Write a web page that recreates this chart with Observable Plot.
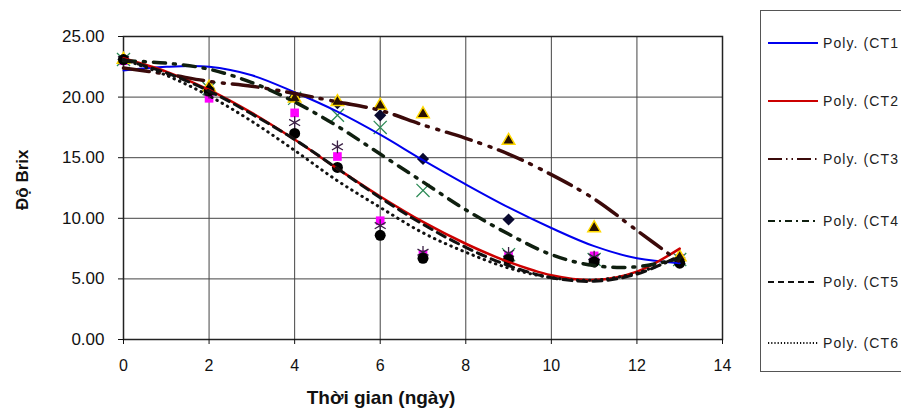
<!DOCTYPE html>
<html>
<head>
<meta charset="utf-8">
<script src="https://cdn.jsdelivr.net/npm/d3@7"></script>
<script src="https://cdn.jsdelivr.net/npm/@observablehq/plot@0.6"></script>
<style>
  html, body { margin: 0; padding: 0; background: #fff; overflow: hidden; }
  #wrap { position: relative; width: 901px; height: 413px; overflow: hidden; font-family: "Liberation Sans", Arial, sans-serif; }
  #legend { position: absolute; left: 760px; top: 10px; width: 170px; height: 362px; border: 1px solid #555; box-sizing: border-box; background: #fff; }
  .item { position: absolute; left: 6px; height: 16px; display: flex; align-items: center; white-space: nowrap; }
  .item span { font-size: 14px; letter-spacing: 1.1px; color: #222; margin-left: 4px; }
</style>
</head>
<body>
<div id="wrap"><div id="chart"></div><div id="legend"></div></div>
<script>
// ---- data ----
const days = [0, 2, 4, 5, 6, 7, 9, 11, 13];
const ct1 = [23.1, 20.7, 20.0, 19.5, 18.5, 14.9, 9.9, 6.6, 6.5];
const ct2 = [23.0, 19.9, 18.7, 15.1, 9.8, 7.0, 6.9, 6.9, 6.7];
const ct3 = [23.1, 20.8, 19.9, 19.6, 19.3, 18.6, 16.4, 9.2, 6.8];
const ct4 = [23.1, 20.7, 19.9, 18.5, 17.5, 12.3, 7.0, 6.6, 6.6];
const ct5 = [23.1, 20.4, 17.9, 15.9, 9.4, 7.2, 7.1, 6.8, 6.5];
const ct6 = [23.1, 20.5, 17.0, 14.2, 8.6, 6.7, 6.6, 6.4, 6.3];

// polynomial trendlines at each day
const trendDays = [0, 1, 2, 3, 4, 5, 6, 7, 8, 9, 10, 11, 12, 13];
const poly1 = [22.2, 22.5, 22.5, 21.8, 20.4, 18.8, 16.9, 14.8, 12.8, 10.9, 9.2, 7.7, 6.7, 6.3];
const poly2 = [23.2, 22.1, 20.6, 18.7, 16.5, 14.1, 11.8, 9.7, 7.9, 6.4, 5.3, 4.9, 5.6, 7.5];
const poly3 = [22.4, 21.9, 21.3, 20.9, 20.3, 19.6, 18.9, 17.7, 16.6, 15.3, 13.6, 11.6, 9.0, 6.4];
const poly4 = [23.0, 22.8, 22.3, 21.2, 19.6, 17.6, 15.3, 13.0, 10.7, 8.7, 7.0, 6.1, 6.0, 6.7];
const poly5 = [23.1, 22.0, 20.5, 18.6, 16.5, 14.1, 11.7, 9.5, 7.6, 6.1, 5.1, 4.8, 5.4, 6.9];
const poly6 = [23.1, 21.8, 20.1, 18.0, 15.6, 13.1, 10.9, 8.8, 7.2, 5.9, 5.1, 4.9, 5.5, 6.8];

const legendLabels = ["Poly. (CT1", "Poly. (CT2", "Poly. (CT3", "Poly. (CT4", "Poly. (CT5", "Poly. (CT6"];
const xTicks = [0, 2, 4, 6, 8, 10, 12, 14];
const yTicks = [0, 5, 10, 15, 20, 25];
const xLabel = "Thời gian (ngày)";
const yLabel = "Độ Brix";

// ---- styles ----
const lineStyles = [
  {stroke: "#0000ee", strokeWidth: 2},
  {stroke: "#cc0000", strokeWidth: 2.5},
  {stroke: "#3b0a0a", strokeWidth: 3.5, strokeDasharray: "26,8,2,9,2,8"},
  {stroke: "#0f1f0f", strokeWidth: 3.5, strokeDasharray: "12,8,2,8"},
  {stroke: "#111", strokeWidth: 3, strokeDasharray: "9,6"},
  {stroke: "#111", strokeWidth: 3, strokeDasharray: "0.5,5.5", strokeLinecap: "round"}
];
const legendDash = [null, null, "14,4,1.5,4,1.5,4", "7,4,2,4", "6,4", "1.2,2"];
const polys = [poly1, poly2, poly3, poly4, poly5, poly6];
const series = [
  {vals: ct1, symbol: "diamond2", fill: "#0a0a30", stroke: "none", r: 5.5},
  {vals: ct2, symbol: "square2", fill: "#ff00ff", stroke: "none", r: 5.5},
  {vals: ct4, symbol: "times", fill: "none", stroke: "#2e8b57", r: 6},
  {vals: ct5, symbol: "asterisk", fill: "none", stroke: "#3a1f45", r: 6},
  {vals: ct3, symbol: "triangle2", fill: "#2a1200", stroke: "#ffd800", r: 6},
  {vals: ct6, symbol: "circle", fill: "#000", stroke: "none", r: 5.5}
];

const lineMarks = polys.map((p, i) =>
  Plot.line(trendDays.map((d, j) => ({x: d, y: p[j]})), {x: "x", y: "y", curve: "catmull-rom", ...lineStyles[i]})
);
const dotMarks = series.map(s =>
  Plot.dot(days.map((d, j) => ({x: d, y: s.vals[j]})), {x: "x", y: "y", symbol: () => s.symbol, r: s.r, fill: s.fill, stroke: s.stroke, strokeWidth: s.symbol === "triangle2" ? 1.5 : 1.3})
);

const chart = Plot.plot({
  width: 901,
  height: 413,
  marginLeft: 123,
  marginRight: 179,
  marginTop: 36,
  marginBottom: 74,
  style: {fontFamily: "'Liberation Sans', Arial, sans-serif", fontSize: "16px", color: "#111", background: "#fff"},
  x: {domain: [0, 14]},
  y: {domain: [0, 25]},
  symbol: {type: "identity"},
  marks: [
    Plot.gridX(xTicks, {stroke: "#444", strokeOpacity: 1, strokeWidth: 1}),
    Plot.gridY(yTicks, {stroke: "#444", strokeOpacity: 1, strokeWidth: 1}),
    Plot.frame({stroke: "#222", strokeWidth: 1.5}),
    ...dotMarks,
    ...lineMarks,
    Plot.axisX(xTicks, {tickSize: 5, tickPadding: 15, label: null, fontSize: 16, style: "letter-spacing:1px"}),
    Plot.axisY(yTicks, {tickSize: 5, tickPadding: 14, label: null, fontSize: 17, tickFormat: d => d.toFixed(2), style: "letter-spacing:2.4px"}),
    Plot.text([xLabel], {frameAnchor: "bottom", dx: -42, dy: 64, text: d => d, fontWeight: "bold", fontSize: 19, fill: "#111", style: "letter-spacing:1.9px"}),
    Plot.text([yLabel], {frameAnchor: "left", dx: -101, dy: 22, rotate: -90, text: d => d, fontWeight: "bold", fontSize: 17, fill: "#111", style: "letter-spacing:1.4px"})
  ]
});
document.getElementById("chart").appendChild(chart);

// legend (HTML)
const legend = document.getElementById("legend");
const rows = [33, 91, 149, 211, 272, 333];
legendLabels.forEach((lab, i) => {
  const st = lineStyles[i];
  const div = document.createElement("div");
  div.className = "item";
  div.style.top = (rows[i] - 9) + "px";
  const dash = legendDash[i] ? `stroke-dasharray="${legendDash[i]}"` : "";
  div.innerHTML = `<svg width="52" height="8"><line x1="1" y1="4" x2="51" y2="4" stroke="${st.stroke}" stroke-width="2" ${dash}/></svg><span>${lab}</span>`;
  legend.appendChild(div);
});
</script>
</body>
</html>
